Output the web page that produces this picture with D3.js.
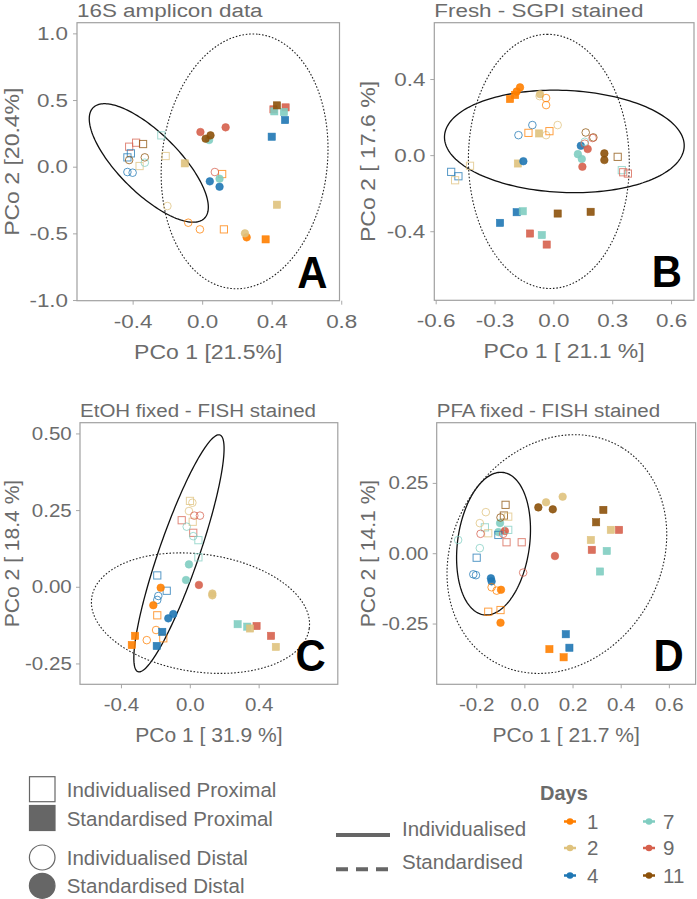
<!DOCTYPE html>
<html>
<head>
<meta charset="utf-8">
<script src="https://cdn.jsdelivr.net/npm/d3@7"></script>
<style>
  body { margin: 0; background: #fff; }
  text { font-family: "Liberation Sans", Arial, sans-serif; }
</style>
</head>
<body>
<div id="chart"></div>
<script>
// day colours
const days = [1, 2, 4, 7, 9, 11];
const dayColors = ["#FF7F00", "#DFC27D", "#1F77B4", "#80CDC1", "#D6604D", "#8C510A"];

// point types: IP = individualised proximal (open square), SP = standardised proximal (filled square)
//              ID = individualised distal (open circle),   SD = standardised distal (filled circle)
// each point: [PCo1, PCo2, day, type]
const pointsA = [
  [-0.38, 0.18, 9, "IP"], [-0.42, 0.15, 9, "IP"], [-0.34, 0.17, 11, "IP"], [-0.43, 0.07, 4, "IP"],
  [-0.41, 0.10, 4, "IP"], [-0.36, 0.005, 2, "IP"], [-0.235, 0.235, 7, "IP"], [-0.21, 0.08, 2, "IP"],
  [0.115, -0.055, 1, "IP"], [0.125, -0.47, 1, "IP"],
  [-0.33, 0.07, 11, "ID"], [-0.33, 0.03, 7, "ID"], [-0.43, -0.04, 4, "ID"], [-0.40, -0.045, 4, "ID"],
  [-0.42, 0.05, 11, "ID"], [-0.20, -0.295, 2, "ID"], [-0.08, -0.42, 1, "ID"], [-0.013, -0.47, 1, "ID"],
  [0.073, -0.04, 9, "ID"],
  [-0.10, 0.025, 2, "SP"], [0.41, 0.43, 9, "SP"], [0.48, 0.445, 9, "SP"], [0.415, 0.415, 7, "SP"],
  [0.47, 0.41, 7, "SP"], [0.43, 0.46, 11, "SP"], [0.477, 0.35, 4, "SP"], [0.40, 0.225, 4, "SP"],
  [0.43, -0.285, 2, "SP"], [0.365, -0.545, 1, "SP"],
  [-0.01, 0.26, 9, "SD"], [0.135, 0.295, 9, "SD"], [0.04, 0.20, 7, "SD"], [0.02, 0.21, 11, "SD"],
  [0.048, 0.235, 11, "SD"], [0.044, -0.11, 4, "SD"], [0.10, -0.15, 4, "SD"], [0.10, -0.09, 7, "SD"],
  [0.256, -0.53, 1, "SD"], [0.246, -0.50, 2, "SD"]
];
const pointsB = [
  [-0.221, 0.295, 1, "SP"], [-0.195, 0.316, 1, "SP"], [-0.073, 0.114, 2, "SP"], [-0.181, -0.044, 2, "SP"],
  [-0.272, -0.356, 4, "SP"], [-0.187, -0.30, 4, "SP"], [-0.156, -0.295, 7, "SP"], [-0.119, -0.412, 9, "SP"],
  [-0.059, -0.42, 7, "SP"], [-0.034, -0.47, 9, "SP"], [0.022, -0.307, 11, "SP"], [0.19, -0.298, 11, "SP"],
  [-0.17, 0.356, 1, "SD"], [-0.187, 0.334, 1, "SD"], [-0.068, 0.32, 2, "SD"], [-0.153, -0.032, 4, "SD"],
  [0.14, 0.049, 4, "SD"], [0.125, 0.005, 7, "SD"], [0.145, -0.02, 7, "SD"], [0.175, 0.032, 9, "SD"],
  [0.148, -0.061, 9, "SD"], [0.26, 0.009, 11, "SD"], [0.26, -0.026, 11, "SD"],
  [-0.037, 0.30, 1, "ID"], [-0.037, 0.263, 1, "ID"], [-0.07, 0.31, 2, "ID"], [-0.107, 0.158, 4, "ID"],
  [-0.178, 0.105, 4, "ID"], [0.022, 0.158, 2, "ID"], [-0.037, 0.105, 2, "ID"], [0.165, 0.119, 11, "ID"],
  [0.204, 0.093, 11, "ID"], [0.20, 0.09, 9, "ID"], [0.16, 0.07, 7, "ID"], [0.16, 0.06, 9, "ID"],
  [-0.127, 0.117, 1, "IP"], [-0.02, 0.126, 1, "IP"], [-0.425, -0.056, 2, "IP"], [-0.521, -0.088, 4, "IP"],
  [-0.484, -0.111, 4, "IP"], [-0.501, -0.132, 2, "IP"], [0.328, -0.009, 11, "IP"], [0.349, -0.079, 7, "IP"],
  [0.356, -0.09, 9, "IP"], [0.38, -0.097, 9, "IP"]
];
const pointsC = [
  [0.001, 0.28, 2, "IP"], [-0.047, 0.217, 9, "IP"], [0.017, 0.212, 2, "IP"], [0.02, 0.176, 9, "IP"],
  [0.05, 0.152, 7, "IP"], [0.05, 0.096, 7, "IP"], [-0.189, 0.037, 4, "IP"], [-0.134, -0.013, 4, "IP"],
  [-0.189, -0.093, 1, "IP"], [-0.154, -0.168, 1, "IP"],
  [0.015, 0.274, 2, "ID"], [-0.005, 0.247, 2, "ID"], [0.026, 0.232, 9, "ID"], [0.059, 0.232, 9, "ID"],
  [-0.018, 0.196, 7, "ID"], [0.02, 0.165, 7, "ID"], [-0.183, -0.03, 4, "ID"], [-0.189, -0.043, 4, "ID"],
  [-0.196, -0.141, 1, "ID"], [-0.25, -0.174, 1, "ID"],
  [-0.005, 0.073, 7, "SD"], [-0.022, 0.022, 7, "SD"], [0.053, 0.006, 9, "SD"], [0.131, -0.022, 2, "SD"],
  [0.131, -0.028, 2, "SD"], [-0.169, -0.003, 1, "SD"], [-0.212, -0.06, 1, "SD"], [-0.096, -0.089, 4, "SD"],
  [-0.125, -0.103, 4, "SD"],
  [0.278, -0.122, 7, "SP"], [0.334, -0.13, 7, "SP"], [0.388, -0.128, 9, "SP"], [0.35, -0.136, 2, "SP"],
  [0.472, -0.16, 9, "SP"], [0.50, -0.196, 2, "SP"], [-0.318, -0.16, 1, "SP"], [-0.337, -0.19, 1, "SP"],
  [-0.16, -0.147, 4, "SP"], [-0.192, -0.193, 4, "SP"]
];
const pointsD = [
  [0.058, 0.163, 11, "SD"], [0.09, 0.181, 2, "SD"], [0.118, 0.156, 11, "SD"], [0.159, 0.201, 2, "SD"],
  [-0.101, 0.107, 7, "SD"], [-0.108, 0.075, 7, "SD"], [-0.081, 0.079, 9, "SD"], [0.127, -0.01, 9, "SD"],
  [-0.139, -0.089, 4, "SD"], [-0.136, -0.10, 4, "SD"], [-0.097, -0.13, 1, "SD"], [-0.099, -0.247, 1, "SD"],
  [0.328, 0.154, 11, "SP"], [0.298, 0.11, 11, "SP"], [0.359, 0.083, 2, "SP"], [0.393, 0.083, 9, "SP"],
  [0.276, 0.047, 2, "SP"], [0.28, 0.012, 9, "SP"], [0.342, 0.008, 7, "SP"], [0.314, -0.065, 7, "SP"],
  [0.172, -0.288, 4, "SP"], [0.187, -0.336, 4, "SP"], [0.104, -0.341, 1, "SP"], [0.163, -0.37, 1, "SP"],
  [-0.078, 0.172, 11, "IP"], [-0.085, 0.134, 11, "IP"], [-0.067, 0.13, 2, "IP"], [-0.164, 0.092, 7, "IP"],
  [-0.15, 0.071, 2, "IP"], [-0.067, 0.083, 7, "IP"], [-0.108, 0.065, 4, "IP"], [-0.074, 0.039, 9, "IP"],
  [-0.011, 0.039, 9, "IP"], [-0.198, -0.016, 4, "IP"], [-0.15, -0.208, 1, "IP"], [-0.099, -0.202, 1, "IP"],
  [-0.16, 0.146, 2, "ID"], [-0.185, 0.107, 2, "ID"], [-0.099, 0.127, 11, "ID"], [-0.182, 0.069, 9, "ID"],
  [-0.275, 0.047, 7, "ID"], [-0.185, 0.018, 7, "ID"], [-0.212, -0.075, 4, "ID"], [-0.201, -0.078, 4, "ID"],
  [-0.136, -0.121, 1, "ID"], [-0.115, -0.133, 1, "ID"], [-0.005, -0.069, 9, "ID"], [-0.088, 0.069, 9, "ID"]
];

// 95% ellipses: [centre x, centre y, semi-axis u (x,y), conjugate semi-axis v (x,y)], solid then dotted
const ellipsesA = [[-0.307, 0.028, 0.320, -0.415, 0.122, 0.159], [0.244, 0.04, 0.081, 0.953, 0.473, -0.068]];
const ellipsesB = [[0.056, 0.072, 0.611, -0.027, -0.011, -0.268], [-0.023, -0.033, -0.010, 0.668, 0.41, 0.005]];
const ellipsesC = [[-0.063, 0.109, 0.238, 0.386, 0.110, -0.021], [0.062, -0.086, 0.632, -0.050, -0.048, -0.190]];
const ellipsesD = [[-0.128, 0.034, 0.0405, 0.253, 0.148, -0.0174], [0.135, -0.003, 0.271, 0.378, 0.367, -0.193]];

// ticks
const xTicksA = [-0.4, 0, 0.4, 0.8], yTicksA = [-1, -0.5, 0, 0.5, 1];
const xTicksB = [-0.6, -0.3, 0, 0.3, 0.6], yTicksB = [-0.4, 0, 0.4];
const xTicksC = [-0.4, 0, 0.4], yTicksC = [-0.25, 0, 0.25, 0.5];
const xTicksD = [-0.2, 0, 0.2, 0.4, 0.6], yTicksD = [-0.25, 0, 0.25];

const titles = ["16S amplicon data", "Fresh - SGPI stained", "EtOH fixed - FISH stained", "PFA fixed - FISH stained"];
const xLabels = ["PCo 1 [21.5%]", "PCo 1 [ 21.1 %]", "PCo 1 [ 31.9 %]", "PCo 1 [ 21.7 %]"];
const yLabels = ["PCo 2 [20.4%]", "PCo 2 [ 17.6 %]", "PCo 2 [ 18.4 %]", "PCo 2 [ 14.1 %]"];
const panelLetters = ["A", "B", "C", "D"];

const shapeLabels = ["Individualised Proximal", "Standardised Proximal", "Individualised Distal", "Standardised Distal"];
const lineLabels = ["Individualised", "Standardised"];

const W = 697, H = 899;
const grey = "#6b6b6b";
const color = d3.scaleOrdinal().domain(days).range(dayColors);

const svg = d3.select("#chart").append("svg")
  .attr("width", W).attr("height", H);

// plain hyphen for negatives, like the original
const numFmt = dec => v => v.toFixed(dec).replace("−", "-");

const panels = [
  { box: [77, 22.7, 339.5, 300.7], xdom: [-0.72, 0.79], ydom: [-1.005, 1.08], xt: xTicksA, yt: yTicksA, xd: 1, yd: 1,
    pts: pointsA, ell: ellipsesA, sx: 1.18, ylx: 19 },
  { box: [434.3, 22.7, 694, 300.3], xdom: [-0.607, 0.717], ydom: [-0.763, 0.696], xt: xTicksB, yt: yTicksB, xd: 1, yd: 1,
    pts: pointsB, ell: ellipsesB, sx: 1.18, ylx: 375 },
  { box: [80, 422.7, 337.8, 684.3], xdom: [-0.638, 0.86], ydom: [-0.318, 0.535], xt: xTicksC, yt: yTicksC, xd: 1, yd: 2,
    pts: pointsC, ell: ellipsesC, sx: 1.08, ylx: 19 },
  { box: [436.7, 422.7, 695.6, 684.3], xdom: [-0.364, 0.711], ydom: [-0.466, 0.464], xt: xTicksD, yt: yTicksD, xd: 1, yd: 2,
    pts: pointsD, ell: ellipsesD, sx: 1.08, ylx: 375 }
];

panels.forEach((p, i) => {
  const [x0, y0, x1, y1] = p.box;
  const x = d3.scaleLinear().domain(p.xdom).range([x0, x1]);
  const y = d3.scaleLinear().domain(p.ydom).range([y1, y0]);
  const g = svg.append("g");

  g.append("clipPath").attr("id", `clip${i}`)
    .append("rect").attr("x", x0).attr("y", y0).attr("width", x1 - x0).attr("height", y1 - y0);

  // axes
  const xAxis = g.append("g").attr("transform", `translate(0,${y1})`)
    .call(d3.axisBottom(x).tickValues(p.xt).tickSize(4).tickPadding(9.5).tickFormat(numFmt(p.xd)));
  const yAxis = g.append("g").attr("transform", `translate(${x0},0)`)
    .call(d3.axisLeft(y).tickValues(p.yt).tickSize(4).tickPadding(3.6).tickFormat(numFmt(p.yd)));
  [xAxis, yAxis].forEach(ax => {
    ax.select(".domain").remove();
    ax.selectAll("line").attr("stroke", "#a8a8a8");
    ax.selectAll("text").attr("fill", grey).attr("font-size", 19)
      .attr("font-family", "Liberation Sans, Arial, sans-serif")
      .attr("transform", `scale(${p.sx},1)`);
  });

  g.append("rect").attr("x", x0).attr("y", y0).attr("width", x1 - x0).attr("height", y1 - y0)
    .attr("fill", "none").attr("stroke", "#a0a0a0").attr("stroke-width", 1.2);

  // ellipses
  const line = d3.line().x(d => x(d[0])).y(d => y(d[1])).curve(d3.curveLinearClosed);
  const ts = d3.range(0, 2 * Math.PI, Math.PI / 90);
  p.ell.forEach((e, k) => {
    const ring = ts.map(t => [e[0] + e[2] * Math.cos(t) + e[4] * Math.sin(t),
                              e[1] + e[3] * Math.cos(t) + e[5] * Math.sin(t)]);
    g.append("path").attr("d", line(ring)).attr("fill", "none")
      .attr("clip-path", `url(#clip${i})`)
      .attr("stroke", k === 0 ? "#111" : "#222")
      .attr("stroke-width", k === 0 ? 1.3 : 1.1)
      .attr("stroke-dasharray", k === 0 ? null : "1.6,1.8");
  });

  // points
  const pg = g.append("g").attr("clip-path", `url(#clip${i})`);
  p.pts.forEach(d => {
    const cx = x(d[0]), cy = y(d[1]), c = color(d[2]);
    const open = d[3] === "IP" || d[3] === "ID";
    let m;
    if (d[3] === "IP" || d[3] === "SP") {
      m = pg.append("rect").attr("x", cx - 3.6).attr("y", cy - 3.6).attr("width", 7.2).attr("height", 7.2);
    } else {
      m = pg.append("circle").attr("cx", cx).attr("cy", cy).attr("r", 3.8);
    }
    if (open) {
      m.attr("fill", "none").attr("stroke", c).attr("stroke-width", 1).attr("stroke-opacity", 0.75);
    } else {
      m.attr("fill", c).attr("fill-opacity", 0.9).attr("stroke", c).attr("stroke-opacity", 0.9).attr("stroke-width", 0.6);
    }
  });

  // titles and labels
  g.append("text").attr("transform", `translate(${x0},${y0 - 6}) scale(${p.sx},1)`)
    .attr("font-size", 19).attr("fill", grey).text(titles[i]);
  g.append("text").attr("transform", `translate(${(x0 + x1) / 2},${y1 + 58}) scale(${p.sx},1)`)
    .attr("text-anchor", "middle").attr("font-size", 19.5).attr("fill", grey).text(xLabels[i]);
  g.append("text").attr("transform", `translate(${p.ylx},${(y0 + y1) / 2}) rotate(-90) scale(${p.sx},1)`)
    .attr("text-anchor", "middle").attr("font-size", 19.5).attr("fill", grey).text(yLabels[i]);
  g.append("text").attr("transform", `translate(${x1 - 12},${y1 - 13}) scale(0.93,1)`)
    .attr("text-anchor", "end").attr("font-size", 45).attr("font-weight", "bold")
    .attr("fill", "#000").text(panelLetters[i]);
});

// shape legend
const lg = svg.append("g");
const shapeRows = [789.2, 818, 857.5, 885.8];
shapeRows.forEach((cy, k) => {
  const filled = k === 1 || k === 3;
  let m;
  if (k < 2) m = lg.append("rect").attr("x", 29.5).attr("y", cy - 12.5).attr("width", 25.5).attr("height", 25);
  else m = lg.append("ellipse").attr("cx", 42.2).attr("cy", cy).attr("rx", 12.8).attr("ry", 12.5);
  m.attr("fill", filled ? "#666" : "#fff").attr("stroke", "#666").attr("stroke-width", 1.2);
  lg.append("text").attr("x", 66.7).attr("y", cy + 7.5).attr("font-size", 20.5).attr("fill", grey)
    .text(shapeLabels[k]);
});

// linetype legend
lineLabels.forEach((s, k) => {
  const ly = k === 0 ? 835 : 869.3;
  lg.append("line").attr("x1", 336).attr("x2", 390).attr("y1", ly).attr("y2", ly)
    .attr("stroke", "#666").attr("stroke-width", 4)
    .attr("stroke-dasharray", k === 0 ? null : "12,8");
  lg.append("text").attr("x", 402).attr("y", (k === 0 ? 828.3 : 861.7) + 7.5)
    .attr("font-size", 20.5).attr("fill", grey).text(s);
});

// day legend
lg.append("text").attr("x", 540).attr("y", 800).attr("font-size", 20).attr("font-weight", "bold")
  .attr("fill", grey).text("Days");
const dayRows = [821.5, 848, 875.5];
days.forEach((dv, k) => {
  const col = Math.floor(k / 3), row = k % 3;
  const cx = col === 0 ? 570 : 649, cy = dayRows[row];
  lg.append("line").attr("x1", cx - 6).attr("x2", cx + 6).attr("y1", cy).attr("y2", cy)
    .attr("stroke", color(dv)).attr("stroke-width", 2.5);
  lg.append("circle").attr("cx", cx).attr("cy", cy).attr("r", 3.3).attr("fill", color(dv));
  lg.append("text").attr("x", col === 0 ? 587 : 663).attr("y", cy + 7).attr("font-size", 20.5)
    .attr("fill", grey).text(dv);
});
</script>
</body>
</html>
